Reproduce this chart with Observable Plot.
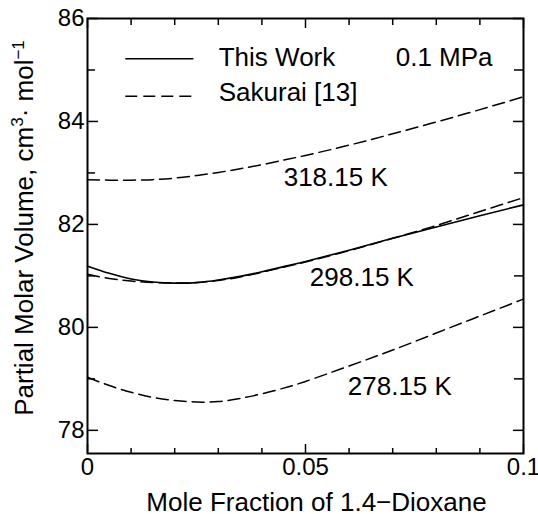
<!DOCTYPE html>
<html><head><meta charset="utf-8">
<script src="https://cdn.jsdelivr.net/npm/d3@7"></script>
<script src="https://cdn.jsdelivr.net/npm/@observablehq/plot@0.6"></script>
<style>
body{margin:0;background:#fff;}
#chart svg{display:block;}
</style></head><body><div id="chart"></div>
<script>
// Mole fraction of 1,4-dioxane (shared x for every curve)
const moleFraction = [0, 0.005, 0.01, 0.015, 0.02, 0.025, 0.03, 0.035, 0.04, 0.045, 0.05, 0.06, 0.07, 0.08, 0.09, 0.10];
// Partial molar volume, cm3/mol
const thisWork298 = [81.19, 81.05, 80.94, 80.88, 80.86, 80.87, 80.92, 80.99, 81.08, 81.18, 81.28, 81.50, 81.73, 81.95, 82.17, 82.38];
const sakurai298  = [81.03, 80.95, 80.90, 80.87, 80.86, 80.87, 80.91, 80.98, 81.07, 81.17, 81.27, 81.49, 81.73, 81.98, 82.25, 82.52];
const sakurai318  = [82.87, 82.86, 82.86, 82.87, 82.90, 82.95, 83.01, 83.08, 83.16, 83.25, 83.34, 83.54, 83.76, 83.99, 84.23, 84.48];
const sakurai278  = [79.03, 78.87, 78.74, 78.64, 78.58, 78.55, 78.56, 78.62, 78.71, 78.82, 78.95, 79.25, 79.56, 79.89, 80.22, 80.55];

const xTickLabels = ["0", "0.05", "0.1"];
const xTicks = [0, 0.05, 0.1];
const xMinorTicks = [0.01, 0.02, 0.03, 0.04, 0.06, 0.07, 0.08, 0.09];
const yTicks = [78, 80, 82, 84, 86];
const yMinorTicks = [79, 81, 83, 85];

const legendLabels = ["This Work", "Sakurai [13]"];
const pressureLabel = "0.1 MPa";
const curveLabels = ["318.15 K", "298.15 K", "278.15 K"];
const xTitle = "Mole Fraction of 1.4\u2212Dioxane";
const yTitleParts = ["Partial Molar Volume, cm", "3", "\u00B7 mol", "\u22121"];
const yTitle = yTitleParts.join("");

const series = [
  {name: "This Work 298.15 K", dashed: false, values: thisWork298},
  {name: "Sakurai 298.15 K", dashed: true, values: sakurai298},
  {name: "Sakurai 318.15 K", dashed: true, values: sakurai318},
  {name: "Sakurai 278.15 K", dashed: true, values: sakurai278}
];
const rows = series.flatMap(s => s.values.map((v, i) => ({series: s.name, dashed: s.dashed, x: moleFraction[i], y: v})));

const font = "'Liberation Sans', Arial, Helvetica, sans-serif";
const W = 538, H = 514, mL = 87, mR = 15, mT = 18, mB = 61;
const pw = W - mL - mR, ph = H - mT - mB;
const dash = "12,6";

const labelPos = [
  {text: curveLabels[0], x: 0.0450, y: 82.905},
  {text: curveLabels[1], x: 0.0510, y: 80.971},
  {text: curveLabels[2], x: 0.0597, y: 78.843}
];
const legendText = [
  {text: legendLabels[0], x: 0.0301, y: 85.236},
  {text: legendLabels[1], x: 0.0301, y: 84.559},
  {text: pressureLabel, x: 0.0707, y: 85.236}
];

const chart = Plot.plot({
  width: W, height: H,
  marginLeft: mL, marginRight: mR, marginTop: mT, marginBottom: mB,
  x: {domain: [0, 0.1]},
  y: {domain: [77.55, 86]},
  style: {fontFamily: font, background: "white", color: "black"},
  marks: [
    // curves
    Plot.line(rows.filter(d => !d.dashed), {x: "x", y: "y", z: "series", stroke: "black", strokeWidth: 1.6, curve: "natural"}),
    Plot.line(rows.filter(d => d.dashed), {x: "x", y: "y", z: "series", stroke: "black", strokeWidth: 1.5, strokeDasharray: dash, curve: "natural"}),
    // ticks (inward)
    Plot.ruleY(yTicks, {y: d => d, insetRight: pw - 11, strokeWidth: 1.5}),
    Plot.ruleY(yMinorTicks, {y: d => d, insetRight: pw - 8, strokeWidth: 1.5}),
    Plot.ruleY(yTicks, {y: d => d, insetLeft: pw - 10, strokeWidth: 1.5}),
    Plot.ruleY(yMinorTicks, {y: d => d, insetLeft: pw - 9, strokeWidth: 1.5}),
    Plot.ruleX(xTicks, {x: d => d, insetTop: ph - 9, strokeWidth: 1.5}),
    Plot.ruleX(xMinorTicks, {x: d => d, insetTop: ph - 5, strokeWidth: 1.5}),
    Plot.ruleX(xTicks, {x: d => d, insetBottom: ph - 10, strokeWidth: 1.5}),
    Plot.ruleX(xMinorTicks, {x: d => d, insetBottom: ph - 7, strokeWidth: 1.5}),
    Plot.frame({stroke: "black", strokeWidth: 2}),
    // axes
    Plot.axisX({ticks: xTicks, tickFormat: d => xTickLabels[xTicks.indexOf(d)], tickSize: 0, tickPadding: 4, fontSize: 24, label: null}),
    Plot.axisY({ticks: yTicks, tickFormat: d => String(d), tickSize: 0, tickPadding: 3, fontSize: 24, label: null}),
    Plot.text([xTitle], {frameAnchor: "bottom", textAnchor: "middle", dx: 11, dy: 49, fontSize: 26, lineAnchor: "middle", fill: "black"}),
    Plot.text([yTitle], {frameAnchor: "left", textAnchor: "middle", rotate: -90, dx: -63, dy: -8, fontSize: 26, lineAnchor: "middle", fill: "black", className: "ytitle"}),
    // legend
    Plot.ruleY([85.217], {x1: 0.00878, x2: 0.0244, stroke: "black", strokeWidth: 1.6}),
    Plot.ruleY([84.49], {x1: 0.00878, x2: 0.0244, stroke: "black", strokeWidth: 1.5, strokeDasharray: dash}),
    Plot.text(legendText, {x: "x", y: "y", text: "text", textAnchor: "start", fontSize: 26, lineAnchor: "middle", fill: "black"}),
    // curve labels
    Plot.text(labelPos, {x: "x", y: "y", text: "text", textAnchor: "start", fontSize: 26, lineAnchor: "middle", fill: "black"})
  ]
});
document.getElementById("chart").appendChild(chart);

// Rebuild the y title with real superscripts
d3.select(chart).selectAll("text").filter(function() { return this.textContent === yTitle; }).each(function() {
  const t = d3.select(this);
  t.text(null);
  yTitleParts.forEach((p, i) => {
    const sup = i % 2 === 1;
    const span = t.append("tspan").text(p);
    if (sup) span.attr("font-size", 17).attr("dy", "-0.55em");
    else if (i > 0) span.attr("dy", "0.37em");
  });
});
</script>
</body></html>
